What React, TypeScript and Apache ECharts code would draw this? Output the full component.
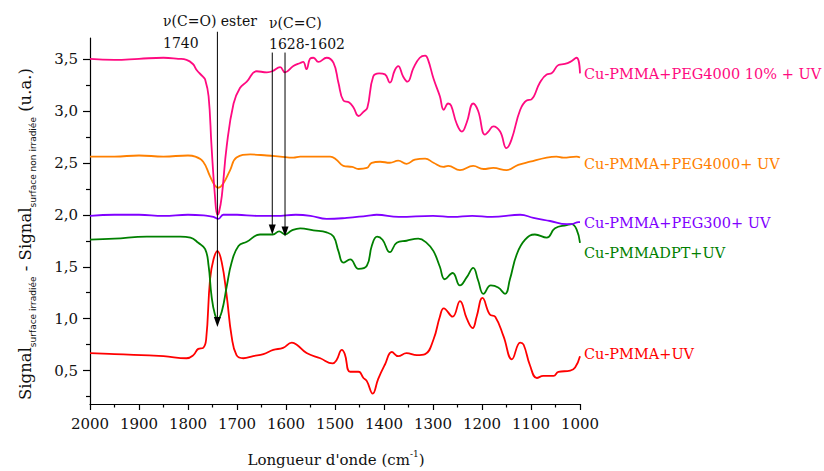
import React, { useEffect, useRef } from 'react';
import * as echarts from 'echarts';

// wavenumber (cm-1), signal difference (u.a.)
const peg4000pct: [number, number][] = [
  [2000, 3.5], [1950, 3.49], [1900, 3.5], [1850, 3.51], [1820, 3.5], [1803, 3.49], [1790, 3.45],
  [1782, 3.39], [1770, 3.33], [1765, 3.3], [1758, 3.14], [1752, 2.66], [1745, 2.18], [1740, 2.0],
  [1737, 2.02], [1731, 2.18], [1721, 2.66], [1707, 3.07], [1694, 3.22], [1680, 3.28], [1660, 3.38],
  [1639, 3.37], [1628, 3.38], [1612, 3.42], [1602, 3.37], [1585, 3.43], [1571, 3.46], [1565, 3.47],
  [1558, 3.4], [1551, 3.5], [1544, 3.51], [1534, 3.47], [1517, 3.51], [1503, 3.46], [1493, 3.27],
  [1483, 3.1], [1471, 3.08], [1462, 3.03], [1452, 2.95], [1442, 2.99], [1434, 3.03], [1422, 3.33],
  [1410, 3.36], [1398, 3.35], [1388, 3.27], [1378, 3.39], [1371, 3.43], [1361, 3.33], [1352, 3.28],
  [1340, 3.41], [1327, 3.51], [1316, 3.53], [1310, 3.49], [1299, 3.31], [1286, 3.14], [1278, 3.01],
  [1269, 3.07], [1263, 3.05], [1252, 2.88], [1241, 2.8], [1231, 2.89], [1218, 3.07], [1208, 3.0],
  [1194, 2.77], [1187, 2.8], [1177, 2.85], [1163, 2.8], [1150, 2.64], [1140, 2.72], [1122, 3.01],
  [1109, 3.1], [1099, 3.11], [1082, 3.27], [1068, 3.35], [1058, 3.36], [1044, 3.44], [1031, 3.45],
  [1020, 3.47], [1007, 3.51], [1000, 3.36],
];

const peg4000: [number, number][] = [
  [2000, 2.56], [1950, 2.56], [1900, 2.57], [1850, 2.56], [1800, 2.57], [1785, 2.56], [1769, 2.51],
  [1755, 2.37], [1745, 2.28], [1738, 2.26], [1728, 2.3], [1714, 2.43], [1701, 2.55], [1673, 2.58],
  [1639, 2.57], [1612, 2.56], [1585, 2.55], [1571, 2.56], [1544, 2.56], [1510, 2.56], [1497, 2.53],
  [1483, 2.47], [1465, 2.46], [1452, 2.44], [1435, 2.45], [1425, 2.5], [1408, 2.51], [1388, 2.5],
  [1371, 2.52], [1354, 2.49], [1337, 2.53], [1316, 2.54], [1299, 2.5], [1279, 2.46], [1269, 2.47],
  [1245, 2.43], [1218, 2.47], [1197, 2.44], [1177, 2.45], [1150, 2.43], [1126, 2.48], [1102, 2.51],
  [1068, 2.55], [1048, 2.56], [1034, 2.55], [1007, 2.56], [1000, 2.55],
];

const peg300: [number, number][] = [
  [2000, 1.99], [1950, 2.0], [1900, 2.0], [1850, 1.99], [1800, 2.0], [1760, 1.99], [1748, 1.98],
  [1738, 1.96], [1728, 2.0], [1700, 2.0], [1660, 1.99], [1620, 1.99], [1580, 2.0], [1550, 1.99],
  [1517, 1.96], [1476, 1.97], [1435, 1.99], [1415, 2.0], [1370, 1.98], [1300, 1.99], [1260, 1.98],
  [1220, 1.99], [1180, 1.98], [1122, 2.0], [1095, 1.97], [1061, 1.94], [1027, 1.91], [1017, 1.91],
  [1003, 1.93], [1000, 1.93],
];

const pmmaDpt: [number, number][] = [
  [2000, 1.76], [1950, 1.77], [1884, 1.79], [1816, 1.79], [1795, 1.78], [1779, 1.73], [1765, 1.67],
  [1758, 1.51], [1752, 1.22], [1745, 1.04], [1739, 1.0], [1731, 1.07], [1721, 1.31], [1711, 1.54],
  [1697, 1.7], [1680, 1.74], [1653, 1.81], [1627, 1.81], [1614, 1.84], [1602, 1.81], [1588, 1.85],
  [1571, 1.87], [1544, 1.85], [1517, 1.83], [1503, 1.79], [1493, 1.65], [1483, 1.54], [1469, 1.57],
  [1452, 1.48], [1435, 1.51], [1425, 1.7], [1414, 1.79], [1403, 1.76], [1388, 1.64], [1374, 1.73],
  [1354, 1.75], [1330, 1.77], [1313, 1.73], [1299, 1.65], [1286, 1.5], [1276, 1.38], [1260, 1.44],
  [1245, 1.32], [1231, 1.4], [1218, 1.49], [1208, 1.37], [1197, 1.24], [1182, 1.32], [1167, 1.3],
  [1153, 1.24], [1143, 1.38], [1129, 1.62], [1112, 1.76], [1092, 1.81], [1068, 1.78], [1051, 1.87],
  [1027, 1.9], [1017, 1.91], [1007, 1.86], [1000, 1.73],
];

const pmma: [number, number][] = [
  [2000, 0.67], [1950, 0.66], [1850, 0.64], [1803, 0.62], [1789, 0.65], [1779, 0.71], [1769, 0.72],
  [1763, 0.8], [1755, 1.38], [1748, 1.57], [1740, 1.65], [1731, 1.54], [1721, 1.22], [1711, 0.83],
  [1701, 0.65], [1687, 0.62], [1667, 0.64], [1646, 0.66], [1626, 0.7], [1606, 0.72], [1588, 0.77],
  [1578, 0.75], [1558, 0.67], [1530, 0.62], [1505, 0.57], [1497, 0.6], [1486, 0.7], [1480, 0.66],
  [1469, 0.49], [1452, 0.49], [1442, 0.43], [1435, 0.4], [1423, 0.28], [1412, 0.42], [1398, 0.56],
  [1384, 0.68], [1371, 0.64], [1354, 0.67], [1333, 0.65], [1316, 0.66], [1299, 0.8], [1286, 1.02],
  [1278, 1.1], [1260, 1.02], [1245, 1.17], [1231, 1.0], [1219, 0.91], [1211, 1.02], [1199, 1.2],
  [1184, 1.04], [1173, 1.02], [1156, 0.83], [1139, 0.61], [1122, 0.77], [1115, 0.75], [1102, 0.55],
  [1088, 0.43], [1075, 0.45], [1054, 0.45], [1044, 0.49], [1020, 0.5], [1010, 0.53], [1000, 0.64],
];

const seriesNames = [
  'Cu-PMMA+PEG4000 10% + UV',
  'Cu-PMMA+PEG4000+ UV',
  'Cu-PMMA+PEG300+ UV',
  'Cu-PMMADPT+UV',
  'Cu-PMMA+UV',
];
const seriesData = [peg4000pct, peg4000, peg300, pmmaDpt, pmma];
const seriesColors = ['#ff0a80', '#ff8000', '#8000ff', '#008000', '#ff0000'];

const yMajorTicks = [0.5, 1.0, 1.5, 2.0, 2.5, 3.0, 3.5];
const yMinorTicks = [0.25, 0.75, 1.25, 1.75, 2.25, 2.75, 3.25];

// annotation arrows: wavenumber, start value, tip value
const arrowMarks = [
  { wn: 1740, from: 3.76, to: 0.92 },
  { wn: 1628, from: 3.56, to: 1.81 },
  { wn: 1602, from: 3.56, to: 1.79 },
];

const SERIF = 'DejaVu Serif';

export default function App() {
  const ref = useRef<HTMLDivElement>(null);

  useEffect(() => {
    const chart = echarts.init(ref.current!, null, { renderer: 'svg' });
    chart.setOption({
      animation: false,
      backgroundColor: '#ffffff',
      grid: { left: 90, right: 244, top: 38, bottom: 67 },
      xAxis: {
        type: 'value',
        min: 1000,
        max: 2000,
        interval: 100,
        inverse: true,
        axisLine: { show: true, onZero: false, lineStyle: { color: '#000', width: 1.2 } },
        axisTick: { show: true, length: 6, lineStyle: { color: '#000', width: 1.2 } },
        minorTick: { show: true, splitNumber: 2, length: 3.5, lineStyle: { color: '#000', width: 1.2 } },
        splitLine: { show: false },
        axisLabel: {
          color: '#111',
          fontFamily: SERIF,
          fontSize: 15,
          margin: 12,
          formatter: (v: number) => String(Math.round(v)),
        },
      },
      yAxis: [
        {
          type: 'value',
          min: 0.18,
          max: 3.7,
          position: 'left',
          axisLine: { show: true, onZero: false, lineStyle: { color: '#000', width: 1.2 } },
          axisTick: { show: true, length: 7, customValues: yMajorTicks, lineStyle: { color: '#000', width: 1.2 } },
          splitLine: { show: false },
          axisLabel: {
            customValues: yMajorTicks,
            color: '#111',
            fontFamily: SERIF,
            fontSize: 15,
            margin: 12,
            formatter: (v: number) => v.toFixed(1).replace('.', ','),
          },
        },
        {
          type: 'value',
          min: 0.18,
          max: 3.7,
          position: 'left',
          offset: 0,
          axisLine: { show: false },
          axisTick: { show: true, length: 4, customValues: yMinorTicks, lineStyle: { color: '#000', width: 1.2 } },
          splitLine: { show: false },
          axisLabel: { show: false },
        },
      ],
      series: seriesData.map((d, i) => ({
        name: seriesNames[i],
        type: 'line',
        data: d,
        showSymbol: false,
        smooth: 0.45,
        z: 3 + (4 - i),
        lineStyle: { color: seriesColors[i], width: 1.8 },
      })),
    });

    const px = (w: number, v: number) => chart.convertToPixel({ gridIndex: 0 }, [w, v]) as number[];
    const graphics: any[] = [];
    arrowMarks.forEach((a) => {
      const top = px(a.wn, a.from);
      const tip = px(a.wn, a.to);
      graphics.push({
        type: 'line',
        z: 100,
        shape: { x1: top[0], y1: top[1], x2: tip[0], y2: tip[1] - 6 },
        style: { stroke: '#000', lineWidth: 1 },
      });
      graphics.push({
        type: 'polygon',
        z: 100,
        shape: { points: [[tip[0] - 3.5, tip[1] - 10], [tip[0] + 3.5, tip[1] - 10], [tip[0], tip[1]]] },
        style: { fill: '#000' },
      });
    });

    const ann = [
      { t: 'ν(C=O) ester', x: 163, y: 21 },
      { t: '1740', x: 163, y: 43 },
      { t: 'ν(C=C)', x: 269, y: 23 },
      { t: '1628-1602', x: 269, y: 44 },
    ];
    ann.forEach((a) =>
      graphics.push({
        type: 'text',
        x: a.x,
        y: a.y,
        z: 100,
        style: { text: a.t, fill: '#111', fontFamily: SERIF, fontSize: 14, align: 'left', verticalAlign: 'middle' },
      })
    );

    const labelY = [74, 164, 223, 253, 354];
    seriesNames.forEach((n, i) =>
      graphics.push({
        type: 'text',
        x: 584,
        y: labelY[i],
        z: 100,
        style: { text: n, fill: seriesColors[i], fontFamily: SERIF, fontSize: 14.5, align: 'left', verticalAlign: 'middle' },
      })
    );

    graphics.push({
      type: 'text',
      x: 336,
      y: 460,
      z: 100,
      style: {
        text: "{a|Longueur d'onde (cm}{b|-1}{a|)}",
        align: 'center',
        verticalAlign: 'middle',
        rich: {
          a: { fontFamily: SERIF, fontSize: 15, fill: '#111', lineHeight: 22 },
          b: { fontFamily: SERIF, fontSize: 9, fill: '#111', lineHeight: 10, verticalAlign: 'top' },
        },
      },
    });

    graphics.push({
      type: 'text',
      x: 25,
      y: 234,
      rotation: Math.PI / 2,
      z: 100,
      style: {
        text: '{a|Signal}{b|surface irradiée}{a| - Signal}{b|surface non irradiée}{a| (u.a.)}',
        align: 'center',
        verticalAlign: 'middle',
        rich: {
          a: { fontFamily: SERIF, fontSize: 16.5, fill: '#111', lineHeight: 24 },
          b: { fontFamily: 'DejaVu Sans', fontSize: 9, fill: '#111', lineHeight: 11, verticalAlign: 'bottom' },
        },
      },
    });

    chart.setOption({ graphic: graphics });
    return () => chart.dispose();
  }, []);

  return (
    <div
      ref={ref}
      style={{ position: 'fixed', left: 0, top: 0, width: 824, height: 471, background: '#fff' }}
    />
  );
}
